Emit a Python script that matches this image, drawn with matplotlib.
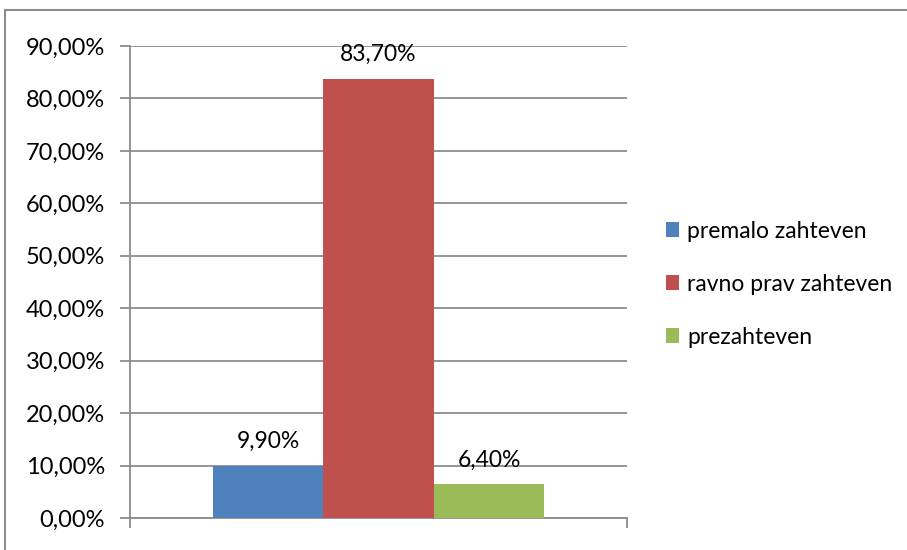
import matplotlib
matplotlib.use("Agg")
import matplotlib.pyplot as plt
from matplotlib.patches import Patch
from matplotlib.lines import Line2D

categories = ["premalo zahteven", "ravno prav zahteven", "prezahteven"]
values = [9.9, 83.7, 6.4]
labels = ["9,90%", "83,70%", "6,40%"]
colors = ["#4F81BD", "#C0504D", "#9BBB59"]
yticks = [0, 10, 20, 30, 40, 50, 60, 70, 80, 90]
ytick_labels = ["0,00%", "10,00%", "20,00%", "30,00%", "40,00%", "50,00%",
                "60,00%", "70,00%", "80,00%", "90,00%"]

plt.rcParams['font.family'] = ['Lato', 'DejaVu Sans']

W, H = 907, 550
fig = plt.figure(figsize=(W / 100, H / 100), dpi=100)
ax = fig.add_axes([130 / W, (H - 518) / H, (627 - 130) / W, (518 - 46) / H])

width = 1 / 1.5 / 3
for i, (v, c, lab) in enumerate(zip(values, colors, labels)):
    x = (i - 1) * width
    ax.bar(x, v, width=width, color=c, zorder=3)
    ax.annotate(lab, (x, v), xytext=(0, 14), textcoords='offset pixels',
                ha='center', va='bottom', fontsize=16.5, color='black')

ax.set_xlim(-0.5, 0.5)
ax.set_ylim(0, 90)
ax.set_yticks(yticks)
ax.set_yticklabels(ytick_labels, fontsize=17)
ax.set_xticks([-0.5, 0.5])
ax.set_xticklabels(["", ""])
ax.grid(axis='y', color='#8C8C8C', linewidth=1.3, zorder=0)
for s in ['top', 'right']:
    ax.spines[s].set_visible(False)
for s in ['left', 'bottom']:
    ax.spines[s].set_color('#8C8C8C')
    ax.spines[s].set_linewidth(1.3)
ax.tick_params(axis='y', direction='out', length=7, width=1.3, color='#8C8C8C', pad=11)
ax.tick_params(axis='x', direction='out', length=7, width=1.3, color='#8C8C8C')

handles = [Patch(facecolor=c, edgecolor='none') for c in colors]
leg = fig.legend(handles, categories, loc='upper left',
                 bbox_to_anchor=(645 / W, 1 - 200 / H), frameon=False,
                 fontsize=16.5, handlelength=0.6, handleheight=0.6,
                 handletextpad=0.35, labelspacing=1.4)

# outer border (left and top visible)
fig.add_artist(Line2D([5 / W, 5 / W], [0, 1 - 10 / H], transform=fig.transFigure,
                      color='#8C8C8C', linewidth=1.5))
fig.add_artist(Line2D([5 / W, 1], [1 - 10 / H, 1 - 10 / H], transform=fig.transFigure,
                      color='#8C8C8C', linewidth=1.5))

fig.savefig("out.png", dpi=100)
